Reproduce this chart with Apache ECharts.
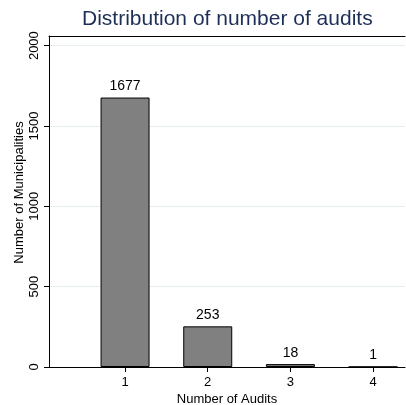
<!DOCTYPE html>
<html>
<head>
<meta charset="utf-8">
<script src="https://cdn.jsdelivr.net/npm/echarts@6/dist/echarts.min.js"></script>
<style>
  html, body { margin: 0; padding: 0; background: #fff; }
  #chart { width: 406px; height: 405px; }
</style>
</head>
<body>
<div id="chart"></div>
<script>
// audits per municipality
var audits = [1, 2, 3, 4];
var counts = [1677, 253, 18, 1];
var yTicks = [0, 500, 1000, 1500, 2000];

var font = '"Liberation Sans", Arial, sans-serif';
var chart = echarts.init(document.getElementById('chart'));

var barData = audits.map(function (a, i) { return [a, counts[i]]; });
var plain = function (v) { return String(v); };

var option = {
    animation: false,
    title: {
        text: 'Distribution of number of audits',
        left: 77,
        top: 4,
        textStyle: { fontFamily: font, fontSize: 21, fontWeight: 'normal', color: '#1e2f57' }
    },
    grid: { left: 49, right: 1, top: 36, bottom: 38, containLabel: false, outerBoundsMode: 'none' },
    xAxis: [
        {
            type: 'value',
            min: 0.08,
            max: 4.386,
            name: 'Number of Audits',
            nameLocation: 'middle',
            nameGap: 26,
            nameMoveOverlap: false,
            nameTextStyle: { fontFamily: font, fontSize: 13, color: '#000' },
            axisLine: { show: true, lineStyle: { color: '#000', width: 1 } },
            axisTick: { show: true, customValues: audits, length: 5, lineStyle: { color: '#000' } },
            axisLabel: { customValues: audits, formatter: plain, fontFamily: font, fontSize: 13, color: '#000', margin: 9 },
            splitLine: { show: false }
        },
        {
            type: 'value',
            position: 'top',
            min: 0.08,
            max: 4.386,
            axisLine: { show: true, lineStyle: { color: '#000', width: 1 } },
            axisTick: { show: false },
            axisLabel: { show: false },
            splitLine: { show: false }
        }
    ],
    yAxis: {
        type: 'value',
        min: 0,
        max: 2060,
        interval: 500,
        name: 'Number of Municipalities',
        nameLocation: 'middle',
        nameGap: 23,
        nameMoveOverlap: false,
        nameTextStyle: { fontFamily: font, fontSize: 13, color: '#000', padding: [0, 0, 0, 18] },
        axisLine: { show: true, lineStyle: { color: '#000', width: 1 } },
        axisTick: { show: true, customValues: yTicks, length: 5, lineStyle: { color: '#000' } },
        axisLabel: { customValues: yTicks, formatter: plain, rotate: 90, fontFamily: font, fontSize: 13, color: '#000', margin: 8 },
        splitLine: { show: true, lineStyle: { color: '#e6eef1', width: 1 } }
    },
    series: [
        {
            type: 'bar',
            xAxisIndex: 0,
            data: barData,
            barWidth: 49,
            itemStyle: { color: '#808080', borderColor: '#000', borderWidth: 1 },
            label: { show: true, position: 'top', distance: 4, fontFamily: font, fontSize: 14, color: '#000' }
        }
    ]
};

chart.setOption(option);
</script>
</body>
</html>
